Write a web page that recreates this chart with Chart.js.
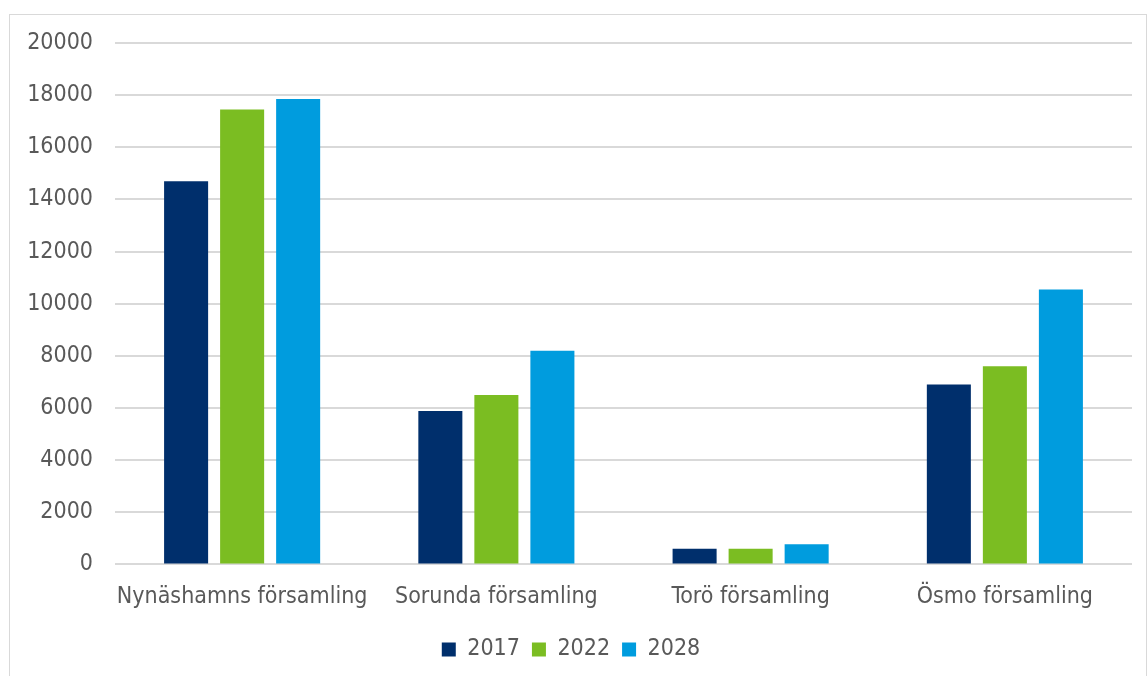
<!DOCTYPE html>
<html>
<head>
<meta charset="utf-8">
<script src="https://cdn.jsdelivr.net/npm/chart.js@4/dist/chart.umd.min.js"></script>
<style>
    html, body { margin: 0; padding: 0; background: #fff; overflow: hidden; }
    #wrap {
        position: absolute;
        left: 9px; top: 14px;
        width: 1136px; height: 680px;
        border: 1px solid #d9d9d9;
    }
    #box { position: absolute; left: 0; top: 0; width: 1136px; height: 662px; }
</style>
</head>
<body>
<div id="wrap"><div id="box"><canvas id="chart"></canvas></div></div>
<script>
// kategorier och värden
const categories = ['Nynäshamns församling', 'Sorunda församling', 'Torö församling', 'Ösmo församling'];
const years = ['2017', '2022', '2028'];
const values2017 = [14700, 5880, 600, 6900];
const values2022 = [17450, 6500, 600, 7600];
const values2028 = [17850, 8200, 770, 10540];
const yTicks = [0, 2000, 4000, 6000, 8000, 10000, 12000, 14000, 16000, 18000, 20000];

const colors = ['#002f6c', '#7bbd22', '#009cde'];
const fontFamily = '"DejaVu Sans Condensed", "Liberation Sans", sans-serif';

Chart.defaults.font.family = fontFamily;
Chart.defaults.font.size = 23;
Chart.defaults.color = '#595959';

const seriesData = [values2017, values2022, values2028];

const ctx = document.getElementById('chart').getContext('2d');
new Chart(ctx, {
    type: 'bar',
    data: {
        labels: categories,
        datasets: years.map((y, i) => ({
            label: y,
            data: seriesData[i],
            backgroundColor: colors[i],
            borderWidth: 0,
            barPercentage: 0.786,
            categoryPercentage: 0.661
        }))
    },
    options: {
        responsive: true,
        maintainAspectRatio: false,
        animation: false,
        layout: { padding: { top: 28, right: 14, left: 0, bottom: 6 } },
        scales: {
            x: {
                grid: { display: false },
                border: { display: false },
                ticks: { padding: 11, maxRotation: 0, autoSkip: false },
                afterFit: (scale) => { scale.height += 4; }
            },
            y: {
                min: 0,
                max: 20000,
                afterBuildTicks: (scale) => {
                    scale.ticks = yTicks.map(v => ({ value: v }));
                },
                afterFit: (scale) => {
                    scale.width = 105;
                    scale.paddingTop = 0;
                },
                grid: { color: '#d9d9d9', lineWidth: 2, drawTicks: false },
                border: { display: false },
                ticks: {
                    padding: 22,
                    callback: (v) => String(v)
                }
            }
        },
        plugins: {
            legend: {
                position: 'bottom',
                labels: {
                    boxWidth: 14,
                    boxHeight: 14,
                    padding: 12
                }
            },
            tooltip: { enabled: false }
        }
    }
});
</script>
</body>
</html>
